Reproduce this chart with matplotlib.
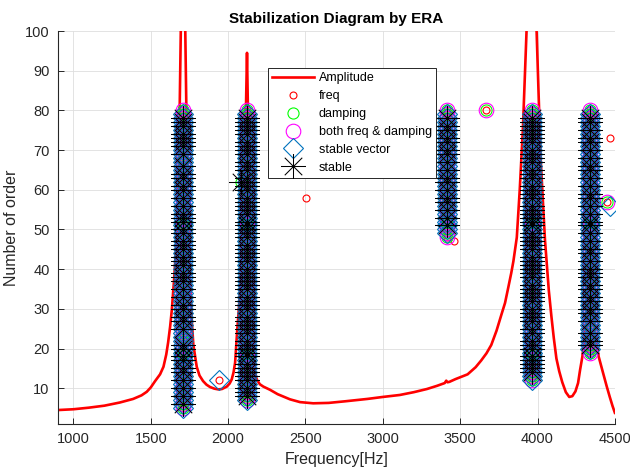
import matplotlib
matplotlib.use("Agg")
import matplotlib.pyplot as plt
from matplotlib.path import Path

plt.rcParams['font.family'] = ['Liberation Sans', 'DejaVu Sans']

# amplitude curve (Hz, scaled amplitude)
amp_freq = [900, 1000, 1100, 1200, 1300, 1386, 1440, 1474, 1500, 1528, 1560, 1582,
            1600, 1612, 1625, 1636, 1650, 1665, 1680, 1694, 1708, 1723, 1738, 1752,
            1765, 1775, 1797, 1815, 1838, 1860, 1883, 1910, 1937, 1960, 1991, 2010,
            2023, 2035, 2045, 2059, 2075, 2090, 2105, 2115, 2122, 2128, 2136, 2145,
            2155, 2163, 2175, 2185, 2205, 2228, 2271, 2320, 2400, 2465, 2550, 2650,
            2755, 2900, 3000, 3110, 3200, 3285, 3350, 3400, 3410, 3418, 3430, 3470,
            3548, 3600, 3636, 3670, 3701, 3735, 3767, 3790, 3811, 3830, 3844, 3866,
            3885, 3905, 3929, 3960, 3994, 4020, 4048, 4073, 4090, 4105, 4122, 4140,
            4160, 4183, 4205, 4225, 4245, 4262, 4275, 4290, 4310, 4337, 4365, 4395,
            4424, 4447, 4467, 4485, 4500]
amp_value = [4.5, 4.7, 5.1, 5.6, 6.4, 7.3, 8.2, 9.1, 10.2, 11.8, 13.5, 15.4,
             18.5, 21.5, 25.5, 29.7, 37, 46, 62, 100, 200, 100, 58, 38,
             27, 21, 15.4, 13.2, 11.8, 10.9, 10.3, 9.9, 9.7, 9.8, 10.4, 11.2,
             12.2, 14, 16.4, 24.7, 33, 45, 62, 80, 94.5, 80, 58, 38,
             24, 17.5, 13.8, 12.2, 11, 10.4, 9.6, 8.5, 7.2, 6.5, 6.2, 6.3,
             6.7, 7.3, 7.8, 8.3, 9.0, 9.8, 10.6, 11.3, 11.9, 11.5, 11.6, 12.3,
             13.5, 15.3, 17, 18.8, 20.9, 24.5, 28.6, 31.5, 35.4, 39, 42, 48,
             60, 75, 100, 250, 100, 68, 47.4, 34.6, 28, 22.7, 17.5, 14.3,
             11.5, 9.0, 7.8, 8.0, 9.2, 11.3, 14.6, 18, 25, 40, 26, 18,
             13.8, 10.5, 7.8, 5.5, 3.8]

# identified modes and the model orders where each criterion holds
mode_freq = [1706, 2120, 3412, 3963, 4337]
circle_orders = [range(5, 81), range(7, 81), range(48, 81), range(12, 81), range(19, 81)]
vector_orders = [range(5, 80), range(7, 80), range(49, 80), range(12, 80), range(20, 80)]
stable_orders = [
    [6, 8, 10, 12, 14, 15, 17, 18, 20, 21, 25, 27, 28, 30, 31, 33, 35, 37, 38, 39, 41,
     42, 43, 45, 46, 47, 49, 50, 52, 53, 54, 56, 58, 60, 61, 63, 64, 66, 69, 71, 72,
     73, 74, 76, 77, 78],
    [o for o in range(8, 79) if o not in (11, 17, 23, 29, 34, 41, 47, 53, 59, 64, 68, 73)],
    [51, 53, 55, 57, 58, 60, 62, 63, 65, 67, 69, 70, 72, 73, 75, 76, 78],
    [o for o in range(14, 79) if o not in (19, 23, 26, 31, 37, 44, 50, 57, 62, 66, 71)],
    [21, 22, 24, 27, 29, 30, 32, 33, 35, 36, 38, 39, 40, 42, 44, 45, 47, 49, 51, 52,
     54, 56, 58, 59, 61, 63, 65, 66, 68, 70, 72, 73, 75, 77, 78],
]

# scattered poles away from the columns
freq_extra_f = [1943, 2503, 3461, 3664, 4452, 4467, 3990]
freq_extra_o = [12, 58, 47, 80, 57, 73, 47]
damp_extra_f = [2082, 3664, 4452]
damp_extra_o = [62, 80, 57]
both_extra_f = [3664, 4452]
both_extra_o = [80, 57]
vector_extra_f = [1943, 4467]
vector_extra_o = [12, 56]
stable_extra_f = [2082]
stable_extra_o = [62]


def collect(orders, extra_f, extra_o):
    xs, ys = [], []
    for f, ords in zip(mode_freq, orders):
        for o in ords:
            xs.append(f)
            ys.append(o)
    return xs + extra_f, ys + extra_o


fx, fy = collect(circle_orders, freq_extra_f, freq_extra_o)
dx, dy = collect(circle_orders, damp_extra_f, damp_extra_o)
bx, by = collect(circle_orders, both_extra_f, both_extra_o)
vx, vy = collect(vector_orders, vector_extra_f, vector_extra_o)
sx, sy = collect(stable_orders, stable_extra_f, stable_extra_o)

# matlab style asterisk: + and x together
star = Path([(-1, 0), (1, 0), (0, -1), (0, 1), (-0.7, -0.7), (0.7, 0.7), (-0.7, 0.7), (0.7, -0.7)],
            [Path.MOVETO, Path.LINETO] * 4)

fig = plt.figure(figsize=(6.3, 4.7), dpi=100)
ax = fig.add_axes([0.092, 0.098, 0.884, 0.836])

ax.plot(amp_freq, amp_value, color='#ff0000', lw=1.9, label='Amplitude', zorder=2)
ax.plot(fx, fy, ls='none', marker='o', ms=5, mfc='none', mec='#ff0000', mew=0.8, label='freq', zorder=3)
ax.plot(dx, dy, ls='none', marker='o', ms=8, mfc='none', mec='#00ff00', mew=0.8, label='damping', zorder=3)
ax.plot(bx, by, ls='none', marker='o', ms=10.5, mfc='none', mec='#ff00ff', mew=0.8,
        label='both freq & damping', zorder=3)
ax.plot(vx, vy, ls='none', marker='D', ms=10, mfc='none', mec='#0072bd', mew=0.8,
        label='stable vector', zorder=4)
ax.plot(sx, sy, ls='none', marker=star, ms=18, mfc='none', mec='black', mew=0.75,
        label='stable', zorder=5)

ax.set_xlim(900, 4500)
ax.set_ylim(1, 100)
ax.set_xticks(range(1000, 4501, 500))
ax.set_yticks(range(10, 101, 10))
ax.grid(True, color='#dedede', lw=0.6)
ax.set_axisbelow(True)
for s in ['top', 'right']:
    ax.spines[s].set_visible(False)
for s in ['left', 'bottom']:
    ax.spines[s].set_color('#262626')
    ax.spines[s].set_linewidth(0.8)
ax.tick_params(direction='in', length=4, width=0.7, colors='#262626', labelsize=10.5, pad=6)

ax.set_title('Stabilization Diagram by ERA', fontsize=11, fontweight='bold', pad=6)
ax.set_xlabel('Frequency[Hz]', fontsize=11.5, color='#262626')
ax.set_ylabel('Number of order', fontsize=11.5, color='#262626')

leg = ax.legend(loc='upper left', bbox_to_anchor=(0.377, 0.906), borderaxespad=0,
                fontsize=9, fancybox=False, framealpha=1, edgecolor='#262626',
                borderpad=0.35, handlelength=3.3, handletextpad=0.4, labelspacing=0.47)
leg.get_frame().set_linewidth(0.7)

fig.savefig('out.png', dpi=100)
